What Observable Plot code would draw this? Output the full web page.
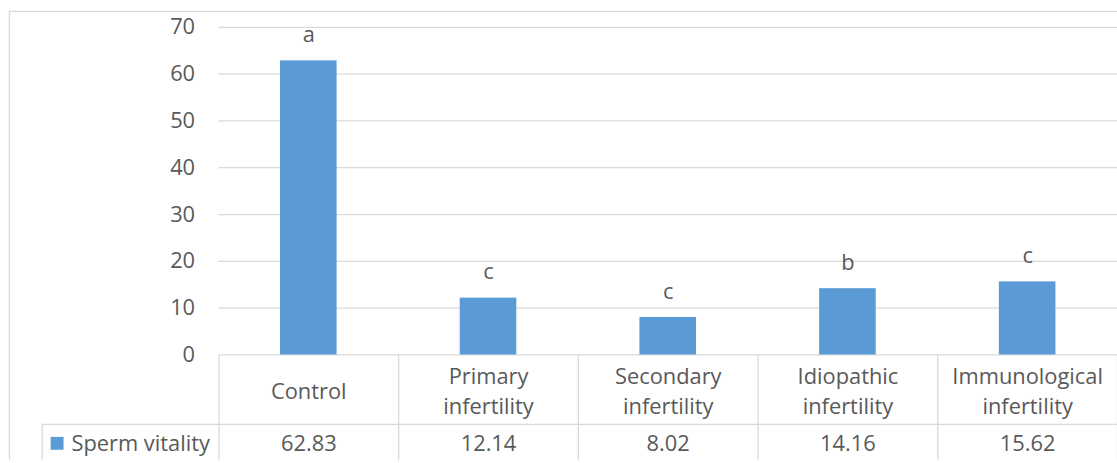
<!DOCTYPE html>
<html>
<head>
<meta charset="utf-8">
<script src="https://cdn.jsdelivr.net/npm/d3@7"></script>
<script src="https://cdn.jsdelivr.net/npm/@observablehq/plot@0.6"></script>
<style>
  html, body { margin: 0; padding: 0; background: #fff; overflow: hidden; }
  #chart svg { display: block; }
</style>
</head>
<body>
<div id="chart"></div>
<script>
// Sperm vitality by group, with significance letters and a data table underneath
const categories = ["Control", "Primary infertility", "Secondary infertility", "Idiopathic infertility", "Immunological infertility"];
const categoryLabels = ["Control", "Primary\ninfertility", "Secondary\ninfertility", "Idiopathic\ninfertility", "Immunological\ninfertility"];
const vitality = [62.83, 12.14, 8.02, 14.16, 15.62];
const letters = ["a", "c", "c", "b", "c"];
const seriesName = "Sperm vitality";
const yTicks = [0, 10, 20, 30, 40, 50, 60, 70];

const data = categories.map((c, i) => ({
  category: c,
  label: categoryLabels[i],
  value: vitality[i],
  letter: letters[i]
}));

const ink = "#595959";
const line = "#d9d9d9";
const barColor = "#5B9BD5";
const font = "Open Sans";
const fs = 22;

const chart = Plot.plot({
  width: 1125,
  height: 463,
  marginLeft: 220,
  marginRight: 0,
  marginTop: 27,
  marginBottom: 106,
  style: { fontFamily: font, fontSize: fs + "px", color: ink, background: "#fff", overflow: "visible" },
  x: { domain: categories, padding: 0, axis: null },
  y: { domain: [0, 70], axis: null },
  marks: [
    Plot.ruleY(yTicks, { stroke: line, strokeWidth: 1.3 }),
    Plot.axisY(yTicks, { tickSize: 0, tickPadding: 24, label: null, fontSize: fs, fill: ink }),
    Plot.barY(data, { x: "category", y: "value", fill: barColor, insetLeft: 62, insetRight: 62 }),
    Plot.text(data, { x: "category", y: "value", text: "letter", dy: -26, fontSize: fs, fill: ink }),
    // table: category names and values
    Plot.text(data, { x: "category", text: "label", frameAnchor: "bottom", lineAnchor: "middle", dy: 35, lineHeight: 1.36, fontSize: fs, fill: ink }),
    Plot.text(data, { x: "category", text: d => d.value.toFixed(2), frameAnchor: "bottom", lineAnchor: "middle", dy: 90, fontSize: fs, fill: ink })
  ]
});

// Table grid and legend key, positioned from the chart's own scales
const x = chart.scale("x");
const y = chart.scale("y");
const svg = d3.select(chart);
const y0 = Math.round(y.apply(0)) + 0.5;
const rowY = y0 + 70;
const g = svg.append("g").attr("stroke", line).attr("stroke-width", 1.3).attr("fill", "none");

// outer chart border
g.append("path").attr("d", `M9.5,463V11.5H1125`);

// column dividers
const edges = categories.map(c => x.apply(c));
edges.push(x.apply(categories[categories.length - 1]) + x.bandwidth);
edges.forEach(e => {
  g.append("line").attr("x1", Math.round(e) + 0.5).attr("x2", Math.round(e) + 0.5).attr("y1", y0).attr("y2", 463);
});
// row divider and legend cell edge
g.append("line").attr("x1", 42.5).attr("x2", 1125).attr("y1", rowY).attr("y2", rowY);
g.append("line").attr("x1", 42.5).attr("x2", 42.5).attr("y1", rowY).attr("y2", 463);

// legend key
svg.append("rect").attr("x", 51).attr("y", 440).attr("width", 13).attr("height", 13).attr("fill", barColor);
svg.append("text")
  .attr("x", 72).attr("y", 447).attr("dy", "0.35em")
  .attr("text-anchor", "start")
  .style("font-family", font).style("font-size", fs + "px").attr("fill", ink)
  .text(seriesName);

document.getElementById("chart").appendChild(chart);
</script>
</body>
</html>
